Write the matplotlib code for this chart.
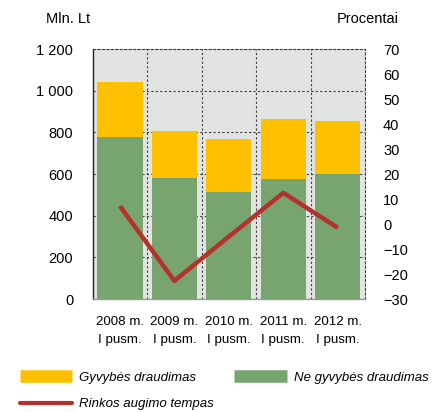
import matplotlib
matplotlib.use("Agg")
import matplotlib.pyplot as plt
from matplotlib.lines import Line2D
import numpy as np

plt.rcParams['font.family'] = ['Liberation Sans', 'DejaVu Sans']

categories = ["2008 m.\nI pusm.", "2009 m.\nI pusm.", "2010 m.\nI pusm.", "2011 m.\nI pusm.", "2012 m.\nI pusm."]
ne_gyvybes = [776, 581, 515, 576, 602]
gyvybes = [267, 225, 253, 290, 253]
augimo_tempas = [7.2, -22.7, -5.0, 12.5, -1.5]
left_ticks = [0, 200, 400, 600, 800, 1000, 1200]
left_labels = ["0", "200", "400", "600", "800", "1 000", "1 200"]
right_ticks = list(range(-30, 71, 10))

c_yellow = '#FFC000'
c_green = '#77A46F'
c_red = '#B5312B'

fig = plt.figure(figsize=(4.33, 4.12), dpi=100)
ax = fig.add_axes([0.214, 0.274, 0.629, 0.607])
ax.set_facecolor('#E1E4E0')
x = np.arange(len(categories))
ax.bar(x, ne_gyvybes, width=0.83, color=c_green, zorder=3)
ax.bar(x, gyvybes, bottom=ne_gyvybes, width=0.83, color=c_yellow, zorder=3)
ax.set_xlim(-0.5, len(categories) - 0.5)
ax.set_ylim(0, 1200)
ax.set_yticks(left_ticks)
ax.set_yticklabels(left_labels, fontsize=10.5)
ax.set_xticks(x)
ax.set_xticklabels(categories, linespacing=1.7, fontsize=9.6)
ax.set_xticks(np.arange(0.5, len(categories) - 1, 1), minor=True)
ax.grid(axis='y', which='major', color='#404040', linestyle=(0, (2, 2)), linewidth=0.8, zorder=1)
ax.grid(axis='x', which='minor', color='#404040', linestyle=(0, (2, 2)), linewidth=0.8, zorder=1)
ax.tick_params(which='both', length=0)
ax.tick_params(axis='x', pad=12)
ax.tick_params(axis='y', pad=14)
ax.set_axisbelow(True)
for s in ['top', 'right']:
    ax.spines[s].set_linestyle((0, (2, 2)))
    ax.spines[s].set_color('#404040')
    ax.spines[s].set_linewidth(0.8)
ax.spines['left'].set_color('#222222')
ax.spines['left'].set_linewidth(1.0)
ax.spines['bottom'].set_color('#999999')
ax.spines['bottom'].set_linewidth(1.0)

ax2 = ax.twinx()
ax2.plot(x, augimo_tempas, color=c_red, linewidth=3.2, zorder=5, solid_capstyle='butt')
ax2.set_ylim(-30, 70)
ax2.set_yticks(right_ticks)
ax2.tick_params(length=0, labelsize=10.5, pad=13)
for s in ['top', 'right', 'left', 'bottom']:
    ax2.spines[s].set_visible(False)

fig.text(0.106, 0.953, "Mln. Lt", fontsize=10.5, ha='left', va='center')
fig.text(0.922, 0.953, "Procentai", fontsize=10.5, ha='right', va='center')

lprop = {'size': 9.5, 'style': 'italic'}
h1 = [
    Line2D([0], [0], color=c_yellow, linewidth=9, solid_capstyle='butt'),
    Line2D([0], [0], color=c_red, linewidth=3, solid_capstyle='round'),
]
leg1 = fig.legend(h1, ["Gyvybės draudimas", "Rinkos augimo tempas"], loc='upper left',
                  bbox_to_anchor=(0.024, 0.12), frameon=False, handlelength=4.0,
                  handletextpad=0.5, labelspacing=1.05, prop=lprop, borderpad=0.2)
h2 = [Line2D([0], [0], color=c_green, linewidth=9, solid_capstyle='butt')]
leg2 = fig.legend(h2, ["Ne gyvybės draudimas"], loc='upper left',
                  bbox_to_anchor=(0.52, 0.12), frameon=False, handlelength=4.0,
                  handletextpad=0.5, prop=lprop, borderpad=0.2)

fig.savefig("out.png", dpi=100)
